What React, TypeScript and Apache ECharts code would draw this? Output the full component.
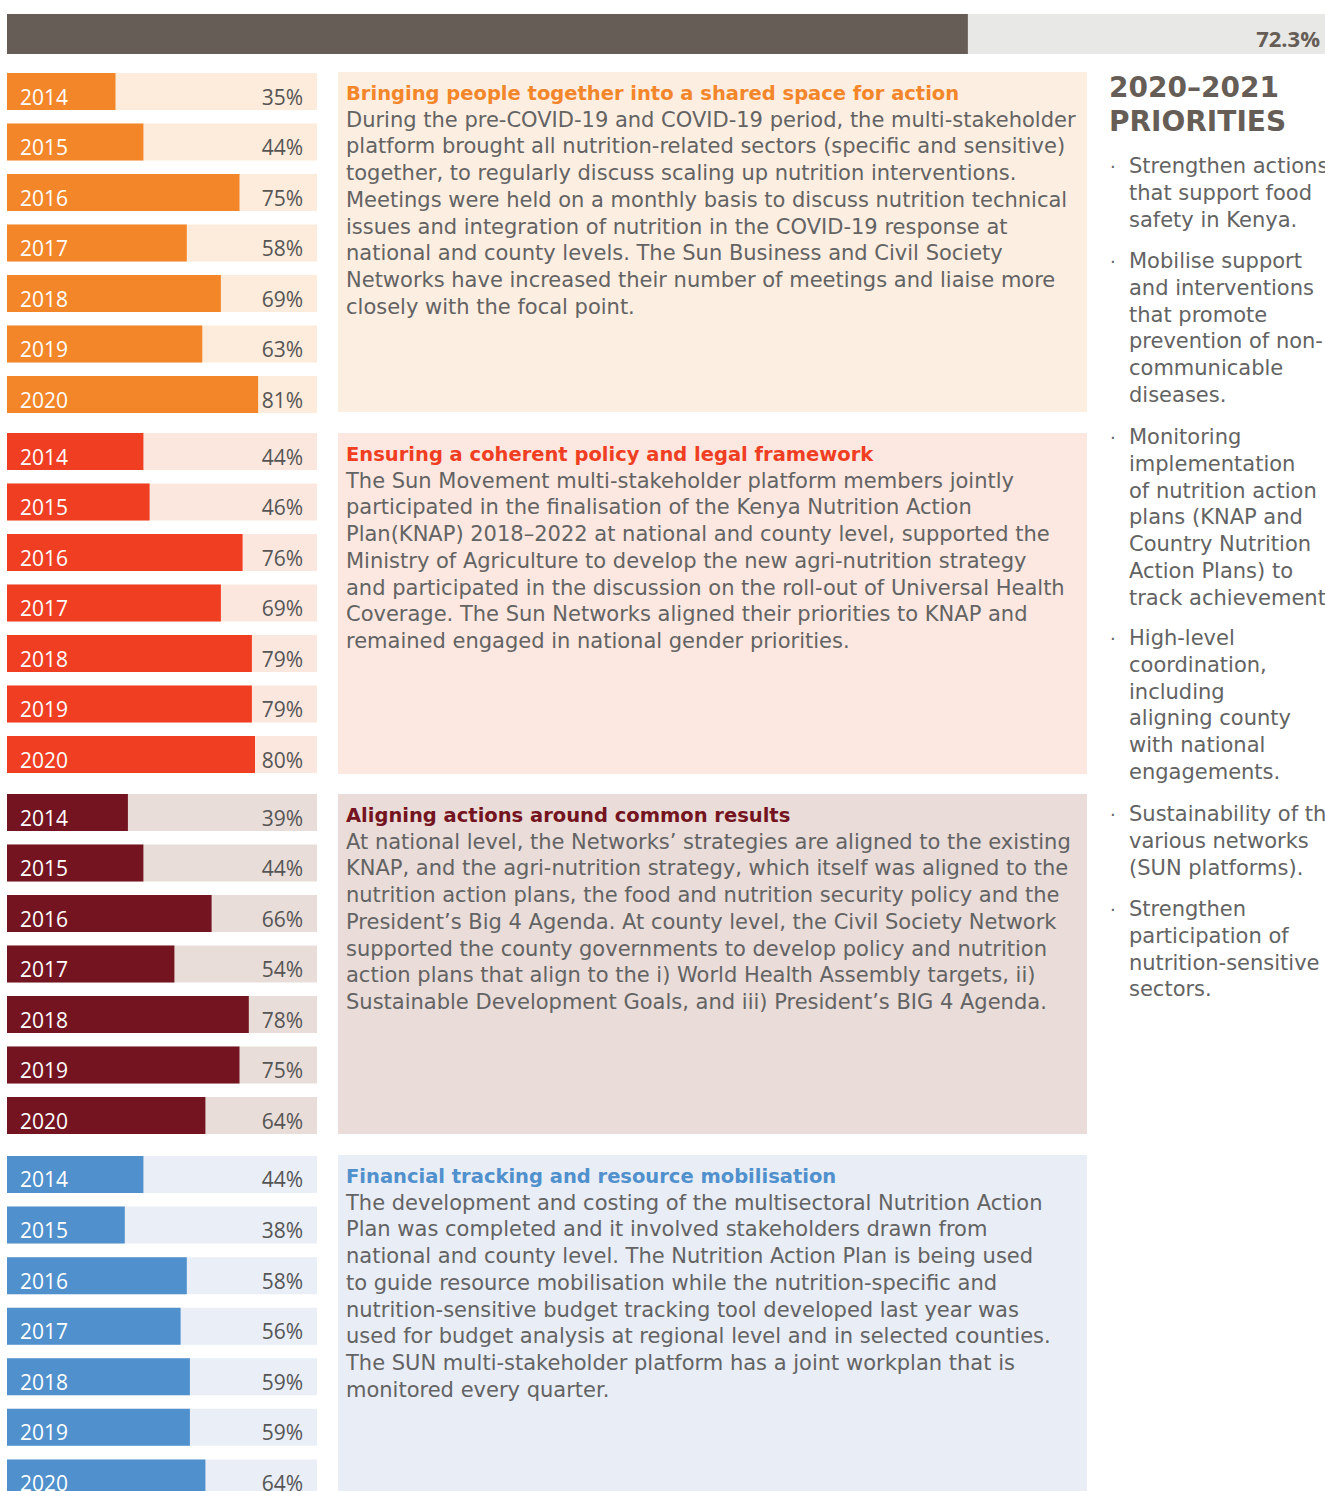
import React, { useEffect, useRef } from "react";
import * as echarts from "echarts";

const years = ["2014", "2015", "2016", "2017", "2018", "2019", "2020"];
const overallValue = 72.3;
const convening = [35, 44, 75, 58, 69, 63, 81];
const policy = [44, 46, 76, 69, 79, 79, 80];
const alignment = [39, 44, 66, 54, 78, 75, 64];
const financial = [44, 38, 58, 56, 59, 59, 64];

const groupColors = ["#f4862a", "#f03e23", "#741420", "#4f90cd"];
const groupBg = ["#fdebdb", "#fce7df", "#e9ddd9", "#e9eef7"];
const panelBg = ["#fdeee2", "#fce8e0", "#e9dcd9", "#e8edf6"];

const titles = [
  "Bringing people together into a shared space for action",
  "Ensuring a coherent policy and legal framework",
  "Aligning actions around common results",
  "Financial tracking and resource mobilisation",
];

const bodies = [
  [
    "During the pre-COVID-19 and COVID-19 period, the multi-stakeholder",
    "platform brought all nutrition-related sectors (specific and sensitive)",
    "together, to regularly discuss scaling up nutrition interventions.",
    "Meetings were held on a monthly basis to discuss nutrition technical",
    "issues and integration of nutrition in the COVID-19 response at",
    "national and county levels. The Sun Business and Civil Society",
    "Networks have increased their number of meetings and liaise more",
    "closely with the focal point.",
  ],
  [
    "The Sun Movement multi-stakeholder platform members jointly",
    "participated in the finalisation of the Kenya Nutrition Action",
    "Plan(KNAP) 2018–2022 at national and county level, supported the",
    "Ministry of Agriculture to develop the new agri-nutrition strategy",
    "and participated in the discussion on the roll-out of Universal Health",
    "Coverage. The Sun Networks aligned their priorities to KNAP and",
    "remained engaged in national gender priorities.",
  ],
  [
    "At national level, the Networks’ strategies are aligned to the existing",
    "KNAP, and the agri-nutrition strategy, which itself was aligned to the",
    "nutrition action plans, the food and nutrition security policy and the",
    "President’s Big 4 Agenda. At county level, the Civil Society Network",
    "supported the county governments to develop policy and nutrition",
    "action plans that align to the i) World Health Assembly targets, ii)",
    "Sustainable Development Goals, and iii) President’s BIG 4 Agenda.",
  ],
  [
    "The development and costing of the multisectoral Nutrition Action",
    "Plan was completed and it involved stakeholders drawn from",
    "national and county level. The Nutrition Action Plan is being used",
    "to guide resource mobilisation while the nutrition-specific and",
    "nutrition-sensitive budget tracking tool developed last year was",
    "used for budget analysis at regional level and in selected counties.",
    "The SUN multi-stakeholder platform has a joint workplan that is",
    "monitored every quarter.",
  ],
];

const prioritiesTitle = ["2020–2021", "PRIORITIES"];
const priorities = [
  ["Strengthen actions", "that support food", "safety in Kenya."],
  ["Mobilise support", "and interventions", "that promote", "prevention of non-", "communicable", "diseases."],
  ["Monitoring", "implementation", "of nutrition action", "plans (KNAP and", "Country Nutrition", "Action Plans) to", "track achievements."],
  ["High-level", "coordination,", "including", "aligning county", "with national", "engagements."],
  ["Sustainability of the", "various networks", "(SUN platforms)."],
  ["Strengthen", "participation of", "nutrition-sensitive", "sectors."],
];

const LABEL_FONT = "'Open Sans', 'DejaVu Sans', sans-serif";
const FONT = "'DejaVu Sans', 'Open Sans', sans-serif";
const TEXT_GREY = "#636363";
const DARK = "#665d56";
const BODY_SIZE = 21;

export default function App() {
  const ref = useRef<HTMLDivElement>(null);
  useEffect(() => {
    if (!ref.current) return;
    const chart = echarts.init(ref.current, null, { renderer: "svg" });
    const groups = [convening, policy, alignment, financial];
    const groupTops = [66.25, 426.25, 787.25, 1149.2];
    const groupHeights = [353.5, 353.5, 353.5, 354];
    const panelTops = [72, 433, 794, 1155];
    const panelBottoms = [412, 774, 1134, 1530];

    const grids: any[] = [];
    const xAxes: any[] = [];
    const yAxes: any[] = [];
    const series: any[] = [];

    // top overall bar
    grids.push({ left: 7, top: 14, width: 1329, height: 40 });
    xAxes.push({ gridIndex: 0, type: "value", min: 0, max: 100, show: false });
    yAxes.push({ gridIndex: 0, type: "category", data: ["overall"], show: false });
    series.push({
      type: "bar", xAxisIndex: 0, yAxisIndex: 0, barWidth: 40, silent: true,
      data: [100], itemStyle: { color: "#e8e8e6" },
    });
    series.push({
      type: "bar", xAxisIndex: 0, yAxisIndex: 0, barWidth: 40, barGap: "-100%", silent: true,
      data: [overallValue], itemStyle: { color: DARK },
    });

    groups.forEach((vals, gi) => {
      const idx = gi + 1;
      grids.push({ left: 7, top: groupTops[gi], width: 310, height: groupHeights[gi] });
      xAxes.push({ gridIndex: idx, type: "value", min: 0, max: 100, show: false });
      yAxes.push({ gridIndex: idx, type: "category", data: years, inverse: true, show: false });
      series.push({
        type: "bar", xAxisIndex: idx, yAxisIndex: idx, barWidth: 37, silent: true,
        data: vals.map(() => 100),
        itemStyle: { color: groupBg[gi] },
        label: {
          show: true, position: "insideRight", distance: 14, offset: [0, 5],
          formatter: (p: any) => vals[p.dataIndex] + "%",
          color: "#555555", fontSize: 21, fontFamily: LABEL_FONT,
        },
      });
      series.push({
        type: "bar", xAxisIndex: idx, yAxisIndex: idx, barWidth: 37, barGap: "-100%", silent: true,
        data: vals,
        itemStyle: { color: groupColors[gi] },
        label: {
          show: true, position: "insideLeft", distance: 13, offset: [0, 5],
          formatter: (p: any) => p.name,
          color: "#ffffff", fontSize: 21, fontFamily: LABEL_FONT,
        },
      });
    });

    const graphic: any[] = [];
    graphic.push({
      type: "text", silent: true, x: 1320, y: 38, z: 100,
      style: {
        text: overallValue + "%", fontSize: 22, fontWeight: "bold", fontFamily: LABEL_FONT, fill: DARK,
        textAlign: "right", textVerticalAlign: "middle",
      },
    });

    const LH = 26.75;
    panelTops.forEach((top, gi) => {
      graphic.push({
        type: "rect", silent: true, z: -1,
        shape: { x: 338, y: top, width: 749, height: panelBottoms[gi] - top },
        style: { fill: panelBg[gi] },
      });
      const titleY = top + 21;
      graphic.push({
        type: "text", silent: true, x: 346, y: titleY,
        style: {
          text: titles[gi], fontSize: 19.5, fontWeight: "bold", fontFamily: FONT,
          fill: groupColors[gi], textVerticalAlign: "middle",
        },
      });
      bodies[gi].forEach((line, li) => {
        graphic.push({
          type: "text", silent: true, x: 346, y: titleY + 26.5 + li * LH,
          style: { text: line, fontSize: BODY_SIZE, fontFamily: FONT, fill: TEXT_GREY, textVerticalAlign: "middle" },
        });
      });
    });

    prioritiesTitle.forEach((t, i) => {
      graphic.push({
        type: "text", silent: true, x: 1109, y: 87.5 + i * 33.5,
        style: {
          text: t, fontSize: 28, fontWeight: "bold",
          fontFamily: FONT, fill: DARK, textVerticalAlign: "middle",
        },
      });
    });
    const bulletTops = [166, 261, 437, 638, 814, 909];
    priorities.forEach((lines, bi) => {
      graphic.push({
        type: "text", silent: true, x: 1110, y: bulletTops[bi],
        style: { text: "·", fontSize: 18, fontFamily: FONT, fill: TEXT_GREY, textVerticalAlign: "middle" },
      });
      lines.forEach((line, li) => {
        graphic.push({
          type: "text", silent: true, x: 1129, y: bulletTops[bi] + li * LH,
          style: { text: line, fontSize: BODY_SIZE, fontFamily: FONT, fill: TEXT_GREY, textVerticalAlign: "middle" },
        });
      });
    });

    chart.setOption({
      animation: false,
      backgroundColor: "#ffffff",
      grid: grids,
      xAxis: xAxes,
      yAxis: yAxes,
      series,
      graphic,
    });
    return () => chart.dispose();
  }, []);
  return (
    <div style={{ position: "absolute", left: 0, top: 0, width: 1325, height: 1491, overflow: "hidden" }}>
      <div ref={ref} style={{ width: 1345, height: 1535 }} />
    </div>
  );
}
